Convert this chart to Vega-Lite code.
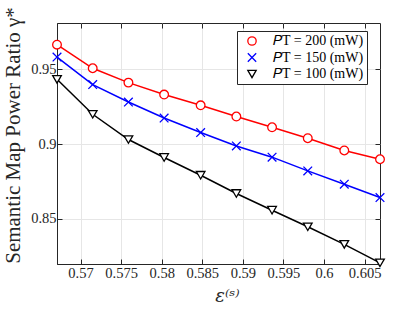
{
  "$schema": "https://vega.github.io/schema/vega-lite/v6.json",
  "autosize": {"type": "none"},
  "width": 323,
  "height": 241,
  "padding": {"left": 57, "top": 23, "right": 40, "bottom": 51},
  "background": "white",
  "config": {
    "font": "Liberation Serif",
    "view": {"stroke": "#262626", "strokeWidth": 1},
    "axis": {
      "gridColor": "#e6e6e6",
      "gridWidth": 1,
      "domainColor": "#262626",
      "tickColor": "#262626",
      "labelColor": "#262626",
      "titleColor": "#262626",
      "labelFont": "Liberation Serif",
      "titleFont": "Liberation Serif",
      "labelFontSize": 14.5,
      "titleFontWeight": "normal"
    }
  },
  "data": {"values": [
    {"eps": 0.5671, "gamma": 0.9665, "series": "𝑃T = 200 (mW)"},
    {"eps": 0.5715, "gamma": 0.9507, "series": "𝑃T = 200 (mW)"},
    {"eps": 0.5759, "gamma": 0.9411, "series": "𝑃T = 200 (mW)"},
    {"eps": 0.5803, "gamma": 0.9331, "series": "𝑃T = 200 (mW)"},
    {"eps": 0.5848, "gamma": 0.9259, "series": "𝑃T = 200 (mW)"},
    {"eps": 0.5892, "gamma": 0.9184, "series": "𝑃T = 200 (mW)"},
    {"eps": 0.5936, "gamma": 0.9112, "series": "𝑃T = 200 (mW)"},
    {"eps": 0.5980, "gamma": 0.9039, "series": "𝑃T = 200 (mW)"},
    {"eps": 0.6025, "gamma": 0.8957, "series": "𝑃T = 200 (mW)"},
    {"eps": 0.6069, "gamma": 0.8898, "series": "𝑃T = 200 (mW)"},
    {"eps": 0.5671, "gamma": 0.9582, "series": "𝑃T = 150 (mW)"},
    {"eps": 0.5715, "gamma": 0.9398, "series": "𝑃T = 150 (mW)"},
    {"eps": 0.5759, "gamma": 0.9281, "series": "𝑃T = 150 (mW)"},
    {"eps": 0.5803, "gamma": 0.9174, "series": "𝑃T = 150 (mW)"},
    {"eps": 0.5848, "gamma": 0.9077, "series": "𝑃T = 150 (mW)"},
    {"eps": 0.5892, "gamma": 0.8987, "series": "𝑃T = 150 (mW)"},
    {"eps": 0.5936, "gamma": 0.8912, "series": "𝑃T = 150 (mW)"},
    {"eps": 0.5980, "gamma": 0.8820, "series": "𝑃T = 150 (mW)"},
    {"eps": 0.6025, "gamma": 0.8731, "series": "𝑃T = 150 (mW)"},
    {"eps": 0.6069, "gamma": 0.8642, "series": "𝑃T = 150 (mW)"},
    {"eps": 0.5671, "gamma": 0.9433, "series": "𝑃T = 100 (mW)"},
    {"eps": 0.5715, "gamma": 0.9199, "series": "𝑃T = 100 (mW)"},
    {"eps": 0.5759, "gamma": 0.9030, "series": "𝑃T = 100 (mW)"},
    {"eps": 0.5803, "gamma": 0.8910, "series": "𝑃T = 100 (mW)"},
    {"eps": 0.5848, "gamma": 0.8791, "series": "𝑃T = 100 (mW)"},
    {"eps": 0.5892, "gamma": 0.8669, "series": "𝑃T = 100 (mW)"},
    {"eps": 0.5936, "gamma": 0.8557, "series": "𝑃T = 100 (mW)"},
    {"eps": 0.5980, "gamma": 0.8446, "series": "𝑃T = 100 (mW)"},
    {"eps": 0.6025, "gamma": 0.8328, "series": "𝑃T = 100 (mW)"},
    {"eps": 0.6069, "gamma": 0.8205, "series": "𝑃T = 100 (mW)"}
  ]},
  "layer": [
    {
      "mark": {"type": "line", "strokeWidth": 1.5},
      "encoding": {
        "x": {
          "field": "eps", "type": "quantitative",
          "scale": {"domain": [0.5671, 0.6069], "nice": false, "zero": false},
          "axis": {
            "values": [0.57, 0.575, 0.58, 0.585, 0.59, 0.595, 0.6, 0.605],
            "labelExpr": "format(datum.value, '.3~f')",
            "title": "ε⁽ˢ⁾",
            "titleFont": "DejaVu Serif",
            "titleFontSize": 18,
            "titleFontStyle": "italic",
            "titleX": 170,
            "titleY": 37,
            "titleBaseline": "alphabetic",
            "titleAlign": "center",
            "tickSize": -5,
            "labelPadding": 7
          }
        },
        "y": {
          "field": "gamma", "type": "quantitative",
          "scale": {"domain": [0.8197, 0.981], "nice": false, "zero": false},
          "axis": {
            "values": [0.85, 0.9, 0.95],
            "labelExpr": "format(datum.value, '.2~f')",
            "title": "Semantic Map Power Ratio γ*",
            "titleFontSize": 21,
            "titleX": -38,
            "titleY": 112,
            "titleBaseline": "alphabetic",
            "titleAlign": "center",
            "tickSize": -5,
            "labelPadding": 6
          }
        },
        "color": {
          "field": "series", "type": "nominal",
          "scale": {"domain": ["𝑃T = 200 (mW)", "𝑃T = 150 (mW)", "𝑃T = 100 (mW)"], "range": ["#ff0000", "#0000ff", "#000000"]},
          "legend": {
            "title": null,
            "orient": "none",
            "legendX": 180,
            "legendY": 8,
            "strokeColor": "#262626",
            "fillColor": "white",
            "padding": 3,
            "labelFont": "Liberation Serif",
            "labelFontSize": 14,
            "labelColor": "black",
            "symbolSize": 70,
            "symbolStrokeWidth": 1.3,
            "symbolFillColor": "white",
            "symbolOffset": 5,
            "labelOffset": 14,
            "rowPadding": 2.5
          }
        }
      }
    },
    {
      "mark": {"type": "point", "filled": false, "fill": "white", "fillOpacity": 1, "size": 75, "strokeWidth": 1.3, "opacity": 1},
      "encoding": {
        "x": {"field": "eps", "type": "quantitative", "axis": null},
        "y": {"field": "gamma", "type": "quantitative", "axis": null},
        "color": {"field": "series", "type": "nominal"},
        "shape": {
          "field": "series", "type": "nominal",
          "scale": {"domain": ["𝑃T = 200 (mW)", "𝑃T = 150 (mW)", "𝑃T = 100 (mW)"], "range": ["circle", "M-1,-1L1,1M-1,1L1,-1", "triangle-down"]}
        }
      }
    },
    {
      "mark": {"type": "point", "opacity": 0},
      "encoding": {
        "x": {"field": "eps", "type": "quantitative", "axis": {"orient": "top", "labels": false, "title": null, "grid": false, "domain": false, "tickSize": -5, "values": [0.57, 0.575, 0.58, 0.585, 0.59, 0.595, 0.6, 0.605]}},
        "y": {"field": "gamma", "type": "quantitative", "axis": {"orient": "right", "labels": false, "title": null, "grid": false, "domain": false, "tickSize": -5, "values": [0.85, 0.9, 0.95]}}
      }
    }
  ],
  "resolve": {"axis": {"x": "independent", "y": "independent"}}
}
